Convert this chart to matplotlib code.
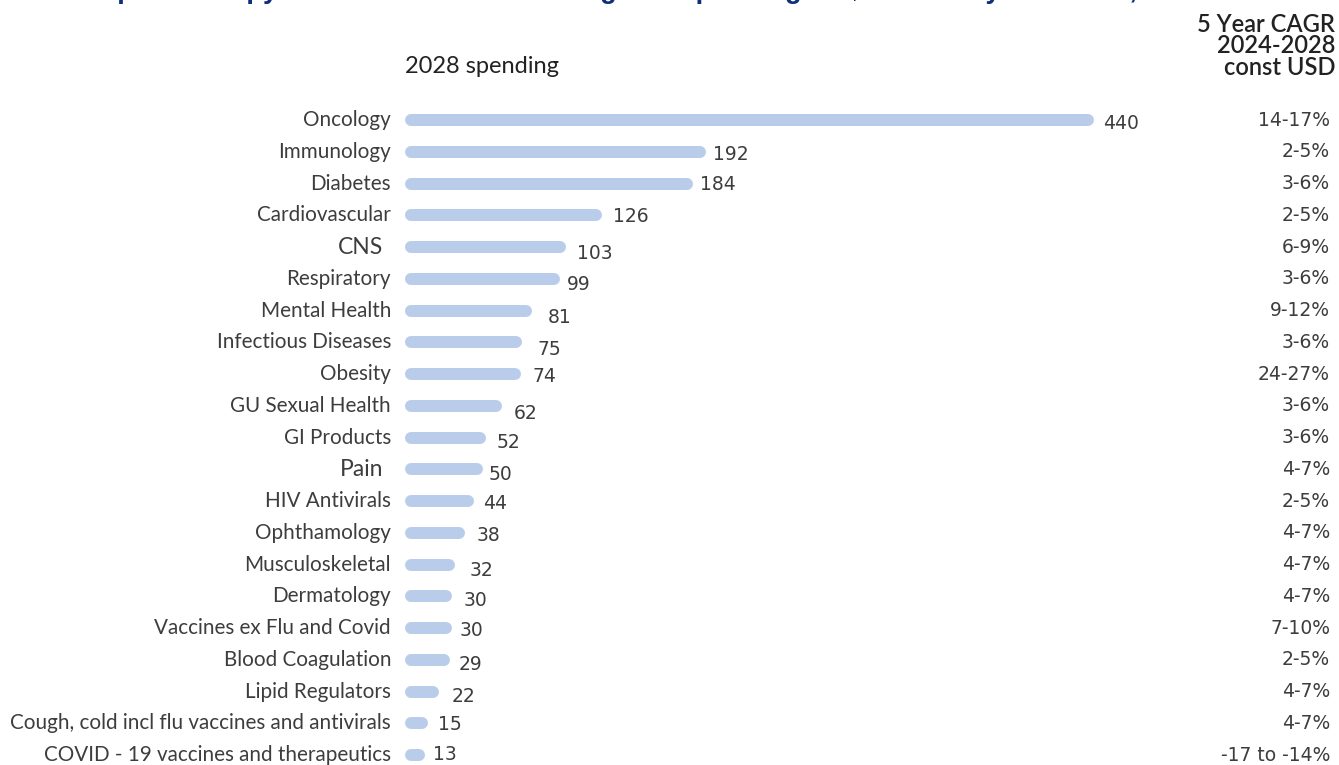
import numpy as np
import matplotlib.pyplot as plt

# therapy areas, 2028 spending (US$Bn) and 5 year CAGR range
areas = ["Oncology", "Immunology", "Diabetes", "Cardiovascular", "CNS",
         "Respiratory", "Mental Health", "Infectious Diseases", "Obesity",
         "GU Sexual Health", "GI Products", "Pain", "HIV Antivirals",
         "Ophthamology", "Musculoskeletal", "Dermatology",
         "Vaccines ex Flu and Covid", "Blood Coagulation", "Lipid Regulators",
         "Cough, cold incl flu vaccines and antivirals",
         "COVID - 19 vaccines and therapeutics"]
spend_2028 = [440, 192, 184, 126, 103, 99, 81, 75, 74, 62, 52, 50, 44, 38,
              32, 30, 30, 29, 22, 15, 13]
cagr = ["14-17%", "2-5%", "3-6%", "2-5%", "6-9%", "3-6%", "9-12%", "3-6%",
        "24-27%", "3-6%", "3-6%", "4-7%", "2-5%", "4-7%", "4-7%", "4-7%",
        "7-10%", "2-5%", "4-7%", "4-7%", "-17 to -14%"]

title = ("Top 20 therapy areas in 2028 with the highest spending US$Bn "
         "and 5 year CAGR, 2024-2028")

# layout in pixels
W, H = 1339, 765
X0 = 405          # where bars start
PX_PER_BN = 1.566
ROW0 = 120
ROW_STEP = 31.75
BAR_PX = 12

# hand nudges for the value labels (gap after bar, drop below row)
gap_px = [9, 7, 7, 11, 11, 7, 16, 15, 12, 12, 10, 5, 9, 12, 14, 12, 8, 8, 12, 10, 8]
drop_px = [3, 3, 1, 1, 6, 6, 7, 7, 2, 8, 5, 5, 2, 3, 6, 4, 2, 5, 5, 1, -1]

BAR_COLOR = "#b9cdea"
TXT = "#3d3d3d"
NAVY = "#0f2f7c"


def row_of(px):
    return (px - ROW0) / ROW_STEP


fig = plt.figure(figsize=(W / 100, H / 100), dpi=100)
ax = fig.add_axes([X0 / W, 0, 1 - X0 / W, 1])
ax.set_xlim(0, (W - X0) / PX_PER_BN)
ax.set_ylim(row_of(H), row_of(0))
ax.axis("off")

y = np.arange(len(areas))
vals = np.array(spend_2028, dtype=float)
cap = (BAR_PX / 2) / PX_PER_BN
ax.hlines(y, cap, vals - cap, colors=BAR_COLOR, linewidth=BAR_PX * 0.72,
          capstyle="round")

for i, (name, v, c) in enumerate(zip(areas, spend_2028, cagr)):
    big = name in ("CNS", "Pain")
    ax.annotate(name, (0, i), xytext=(-22 if big else -14, 0),
                textcoords="offset pixels", ha="right", va="center",
                fontsize=16.5 if big else 14.9, family="Lato", color=TXT)
    ax.annotate(str(v), (v, i), xytext=(gap_px[i], -drop_px[i]),
                textcoords="offset pixels", ha="left", va="center",
                fontsize=13.5, family="DejaVu Sans", color=TXT)
    ax.annotate(c, (1, i), xycoords=("axes fraction", "data"),
                xytext=(-9, 0), textcoords="offset pixels", ha="right",
                va="center", fontsize=13.5, family="DejaVu Sans", color=TXT)

ax.annotate("2028 spending", (0, row_of(73)), ha="left", va="baseline",
            fontsize=17, family="Lato", color="#222222")
for txt, base in [("5 Year CAGR", 32), ("2024-2028", 53), ("const USD", 75)]:
    ax.annotate(txt, (1, row_of(base)), xycoords=("axes fraction", "data"),
                xytext=(-4, 0), textcoords="offset pixels", ha="right",
                va="baseline", fontsize=17, family="Lato",
                fontweight="semibold", color="#222222")

fig.text(85.5 / W, 1 + 2 / H, title, ha="left", va="baseline", fontsize=19.6,
         fontweight="bold", family="Liberation Sans", color=NAVY)

fig.savefig("out.png", dpi=100)
